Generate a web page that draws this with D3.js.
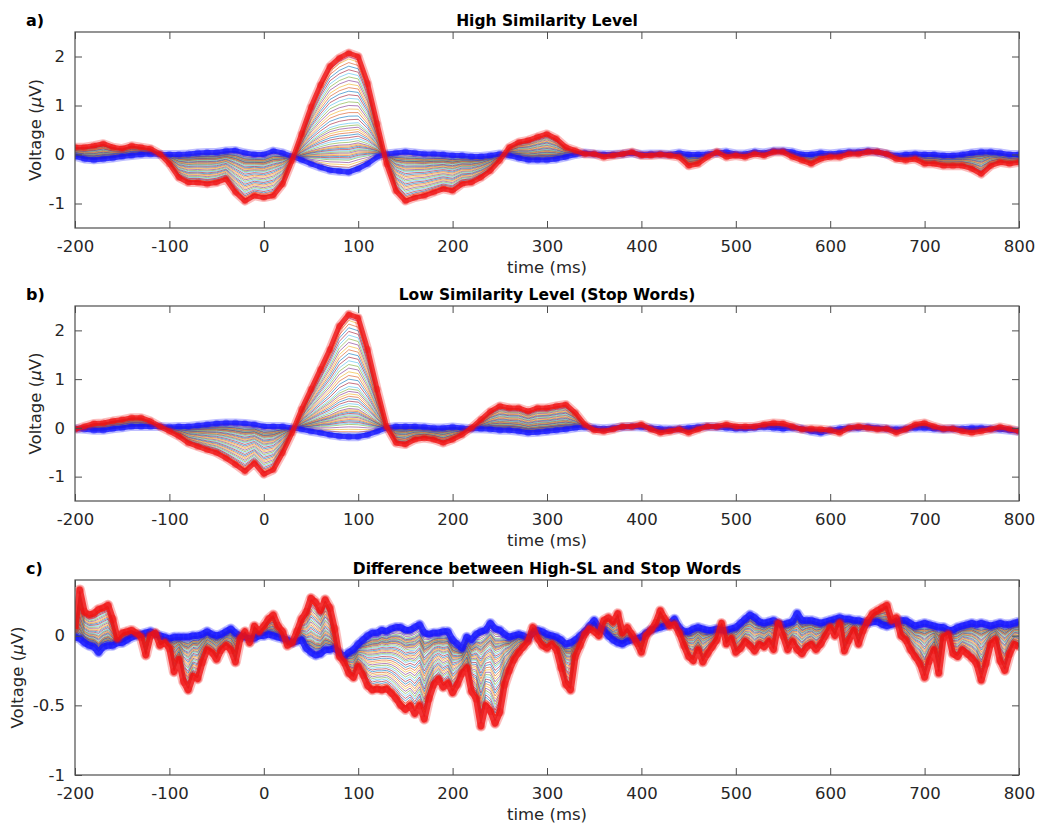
<!DOCTYPE html>
<html>
<head>
<meta charset="utf-8">
<script src="https://cdn.jsdelivr.net/npm/d3@7/dist/d3.min.js"></script>
<style>
  body { margin: 0; background: #fff; }
  text { font-family: "DejaVu Sans", sans-serif; fill: #262626; }
</style>
</head>
<body>
<script>

// window size
var width = 1039, height = 825;

// sample grids (ms)
var timeAB = d3.range(-200, 801, 10);
var timeC = d3.range(-200, 801, 5);

// a) high similarity level - red = largest channel, blue = opposite channel
var redA = [
   0.15, 0.15, 0.18, 0.22, 0.15, 0.12, 0.18, 0.15, 0.12, 0.01,
  -0.19,-0.47,-0.57,-0.57,-0.60,-0.57,-0.50,-0.77,-0.95,-0.84,
  -0.88,-0.84,-0.60,-0.12, 0.42, 0.97, 1.42, 1.80, 1.97, 2.07,
   2.00, 1.45, 0.63,-0.19,-0.74,-0.95,-0.88,-0.84,-0.77,-0.70,
  -0.74,-0.60,-0.57,-0.47,-0.33,-0.12, 0.15, 0.25, 0.29, 0.36,
   0.42, 0.32, 0.15, 0.08, 0.01, 0.01,-0.05,-0.02, 0.01, 0.05,
  -0.02,-0.02, 0.00,-0.02,-0.05,-0.23,-0.19,-0.05, 0.05,-0.05,
  -0.02,-0.05, 0.01,-0.02, 0.05, 0.05,-0.05,-0.12,-0.19,-0.09,
  -0.05,-0.05, 0.01, 0.01, 0.05, 0.05, 0.01,-0.09,-0.12,-0.09,
  -0.19,-0.19,-0.23,-0.23,-0.23,-0.29,-0.40,-0.23,-0.16,-0.19,
  -0.16
];
var blueA = [
  -0.04,-0.09,-0.11,-0.09,-0.07,-0.04,-0.02, 0.00, 0.01, 0.00,
   0.00, 0.00, 0.01, 0.03, 0.04, 0.04, 0.07, 0.08, 0.03, 0.00,
   0.00, 0.07, 0.03,-0.04,-0.11,-0.19,-0.26,-0.32,-0.34,-0.36,
  -0.29,-0.19,-0.05, 0.01, 0.03, 0.05, 0.03, 0.01, 0.01, 0.00,
  -0.02,-0.02,-0.04,-0.04,-0.02, 0.01,-0.02,-0.07,-0.11,-0.11,
  -0.11,-0.09,-0.05, 0.00, 0.03, 0.01, 0.00, 0.00, 0.01, 0.03,
   0.00, 0.01, 0.01, 0.00, 0.03, 0.00, 0.00, 0.01, 0.03, 0.05,
   0.01, 0.01, 0.05, 0.03, 0.07, 0.07, 0.05, 0.00, 0.00, 0.03,
   0.01, 0.03, 0.05, 0.05, 0.07, 0.05, 0.01,-0.02, 0.00, 0.01,
   0.00, 0.00,-0.02,-0.02, 0.00, 0.03, 0.05, 0.05, 0.03, 0.00,
   0.00
];

// b) low similarity level (stop words)
var redB = [
  -0.03, 0.03, 0.09, 0.10, 0.14, 0.17, 0.21, 0.21, 0.14, 0.03,
  -0.07,-0.17,-0.31,-0.38,-0.45,-0.51,-0.62,-0.75,-0.89,-0.72,
  -0.95,-0.86,-0.51,-0.10, 0.38, 0.79, 1.20, 1.61, 2.09, 2.33,
   2.26, 1.61, 0.79, 0.03,-0.31,-0.34,-0.24,-0.21,-0.24,-0.31,
  -0.24,-0.14, 0.00, 0.17, 0.34, 0.45, 0.41, 0.41, 0.34, 0.41,
   0.41, 0.45, 0.48, 0.31, 0.07,-0.05,-0.07,-0.03, 0.03, 0.03,
   0.07,-0.03,-0.10,-0.07,-0.03,-0.10,-0.03, 0.03, 0.03, 0.07,
   0.03, 0.03, 0.03, 0.07, 0.10, 0.09, 0.03,-0.03,-0.02,-0.03,
  -0.05,-0.10, 0.00, 0.03, 0.00,-0.03,-0.02,-0.10,-0.03, 0.07,
   0.10, 0.03,-0.02,-0.02,-0.07,-0.10,-0.07,-0.03, 0.02,-0.02,
  -0.07
];
var blueB = [
  -0.02,-0.03,-0.05,-0.05,-0.02, 0.00, 0.03, 0.03, 0.03, 0.03,
   0.02, 0.03, 0.03, 0.05, 0.07, 0.09, 0.10, 0.10, 0.09, 0.07,
   0.03, 0.03, 0.03, 0.00,-0.03,-0.07,-0.10,-0.14,-0.17,-0.18,
  -0.18,-0.14,-0.07, 0.00, 0.03, 0.03, 0.03, 0.02, 0.00, 0.00,
   0.02, 0.00,-0.02,-0.02,-0.03,-0.05,-0.05,-0.07,-0.10,-0.09,
  -0.07,-0.05,-0.03, 0.00, 0.02, 0.00,-0.02, 0.00, 0.02, 0.03,
   0.02, 0.00,-0.02,-0.03,-0.02, 0.00, 0.02, 0.03, 0.02, 0.00,
  -0.02,-0.02, 0.00, 0.02, 0.00,-0.02, 0.00,-0.02,-0.07,-0.10,
  -0.05,-0.02, 0.00, 0.00, 0.02, 0.00,-0.02,-0.03,-0.02, 0.00,
   0.00,-0.02,-0.03,-0.02,-0.02, 0.00, 0.00,-0.02,-0.03,-0.05,
  -0.07
];

// c) difference between High-SL and stop words (5 ms steps)
var redC = [
   0.05, 0.33, 0.17, 0.15, 0.16, 0.19, 0.20, 0.22, 0.12,-0.02,
   0.02, 0.03, 0.04, 0.02,-0.01,-0.14, 0.00, 0.02,-0.07,-0.05,
  -0.09,-0.26,-0.17,-0.33,-0.39,-0.29,-0.31,-0.19,-0.10,-0.12,
  -0.17,-0.10,-0.07,-0.10,-0.19,-0.02, 0.03,-0.05, 0.07, 0.03,
   0.07, 0.12, 0.15, 0.07, 0.03,-0.07,-0.05, 0.03, 0.12, 0.17,
   0.27, 0.24, 0.18, 0.26, 0.20, 0.05,-0.15,-0.19,-0.27,-0.30,
  -0.22,-0.28,-0.36,-0.39,-0.38,-0.39,-0.38,-0.41,-0.45,-0.50,
  -0.53,-0.50,-0.56,-0.50,-0.60,-0.45,-0.35,-0.31,-0.37,-0.34,
  -0.41,-0.35,-0.27,-0.23,-0.40,-0.45,-0.65,-0.50,-0.54,-0.63,
  -0.55,-0.35,-0.25,-0.17,-0.12,-0.08,-0.04, 0.06,-0.02,-0.07,
  -0.09,-0.06,-0.10,-0.23,-0.35,-0.39,-0.15,-0.07, 0.01, 0.05,
   0.03, 0.00, 0.11, 0.13, 0.10, 0.16, 0.02, 0.06, 0.01,-0.05,
  -0.12, 0.00, 0.04, 0.09, 0.18, 0.12, 0.07, 0.08, 0.02,-0.07,
  -0.15,-0.18,-0.10,-0.19,-0.13,-0.08,-0.03, 0.09,-0.06,-0.02,
  -0.12,-0.09,-0.04,-0.07,-0.11,-0.06,-0.08,-0.04,-0.10, 0.09,
   0.00,-0.10,-0.04,-0.10,-0.13,-0.08,-0.06,-0.10,-0.06, 0.00,
   0.06, 0.00, 0.09,-0.11,-0.03, 0.04,-0.06, 0.04, 0.11, 0.16,
   0.18, 0.20, 0.22, 0.11, 0.13, 0.00,-0.03,-0.10,-0.15,-0.20,
  -0.30,-0.18,-0.10,-0.27,-0.01, 0.01,-0.13,-0.15,-0.10,-0.13,
  -0.16,-0.20,-0.32,-0.20,-0.06,-0.03,-0.18,-0.25,-0.13,-0.06,
  -0.08
];
var blueC = [
  -0.01,-0.02,-0.05,-0.07,-0.08,-0.12,-0.08,-0.07,-0.07,-0.05,
  -0.05,-0.03,-0.01, 0.00, 0.01, 0.02, 0.03, 0.01, 0.00,-0.01,
  -0.02,-0.01,-0.01,-0.01,-0.01, 0.00, 0.00, 0.01, 0.03, 0.01,
   0.00, 0.01, 0.03, 0.05, 0.02, 0.00,-0.01,-0.02,-0.02, 0.00,
   0.00, 0.01, 0.00,-0.01,-0.02,-0.03,-0.05,-0.04,-0.03,-0.09,
  -0.12,-0.14,-0.13,-0.10,-0.10,-0.09,-0.12,-0.15,-0.12,-0.10,
  -0.06,-0.03, 0.00, 0.02, 0.02, 0.04, 0.03, 0.05, 0.06, 0.06,
   0.04, 0.04, 0.06, 0.08, 0.02, 0.01, 0.02, 0.02, 0.03, 0.03,
  -0.03,-0.06,-0.09,-0.01,-0.03, 0.01, 0.03, 0.04, 0.09, 0.05,
   0.04, 0.01,-0.01, 0.00, 0.01, 0.00,-0.02, 0.02, 0.04, 0.03,
   0.01, 0.00,-0.01,-0.03,-0.06,-0.05,-0.03, 0.00, 0.03, 0.07,
   0.11, 0.06, 0.04, 0.00,-0.03,-0.05,-0.06,-0.04,-0.03,-0.02,
  -0.01, 0.02, 0.04, 0.05, 0.06, 0.07, 0.09, 0.12, 0.06, 0.03,
   0.03, 0.05, 0.06, 0.05, 0.04, 0.04, 0.05, 0.04, 0.04, 0.05,
   0.06, 0.09, 0.12, 0.15, 0.13, 0.10, 0.09, 0.10, 0.11, 0.09,
   0.08, 0.09, 0.10, 0.16, 0.11, 0.11, 0.11, 0.10, 0.09, 0.10,
   0.11, 0.12, 0.13, 0.12, 0.12, 0.11, 0.11, 0.10, 0.09, 0.10,
   0.10, 0.08, 0.07, 0.08, 0.09, 0.11, 0.11, 0.09, 0.07, 0.08,
   0.09, 0.08, 0.07, 0.06, 0.06, 0.04, 0.04, 0.06, 0.07, 0.08,
   0.09, 0.08, 0.09, 0.08, 0.07, 0.08, 0.09, 0.08, 0.08, 0.09,
   0.10
];

// relative position of each thin channel between the blue and red channels
var channelWeights = [
  0.02, 0.04, 0.06, 0.08, 0.10, 0.11, 0.12, 0.13, 0.14, 0.15,
  0.16, 0.17, 0.18, 0.19, 0.20, 0.21, 0.22, 0.23, 0.25, 0.27,
  0.29, 0.31, 0.33, 0.35, 0.37, 0.39, 0.41, 0.44, 0.47, 0.50,
  0.53, 0.56, 0.59, 0.62, 0.65, 0.68, 0.71, 0.74, 0.77, 0.80,
  0.83, 0.86, 0.89, 0.92, 0.95, 0.97
];

// matlab default line colours
var colours = ["#0072BD", "#D95319", "#EDB120", "#7E2F8E", "#77AC30", "#4DBEEE", "#A2142F"];

var xTicks = [-200, -100, 0, 100, 200, 300, 400, 500, 600, 700, 800];

var panels = [
  { tag: "a)", title: "High Similarity Level", time: timeAB, red: redA, blue: blueA,
    yDomain: [-1.5, 2.5], yTicks: [-1, 0, 1, 2], top: 32, bottom: 228, yLabelX: 35, thick: 5 },
  { tag: "b)", title: "Low Similarity Level (Stop Words)", time: timeAB, red: redB, blue: blueB,
    yDomain: [-1.5, 2.5], yTicks: [-1, 0, 1, 2], top: 306, bottom: 501, yLabelX: 35, thick: 5 },
  { tag: "c)", title: "Difference between High-SL and Stop Words", time: timeC, red: redC, blue: blueC,
    yDomain: [-1, 0.4], yTicks: [-1, -0.5, 0], top: 580, bottom: 775, yLabelX: 17, thick: 6.5 }
];

var left = 75, right = 1019;

var svg = d3.select("body")
    .append("svg")
    .attr("width", width)
    .attr("height", height);

var x = d3.scaleLinear().domain([-200, 800]).range([left, right]);

panels.forEach(function (p, pi) {

    var y = d3.scaleLinear().domain(p.yDomain).range([p.bottom, p.top]);
    var g = svg.append("g");

    var clipId = "clip" + pi;
    svg.append("clipPath").attr("id", clipId)
        .append("rect")
        .attr("x", left).attr("y", p.top)
        .attr("width", right - left).attr("height", p.bottom - p.top);

    var line = d3.line()
        .x(function (d) { return x(d[0]); })
        .y(function (d) { return y(d[1]); });

    var plot = g.append("g").attr("clip-path", "url(#" + clipId + ")");

    // thin channels
    channelWeights.forEach(function (w, i) {
        var pts = p.time.map(function (t, k) {
            return [t, p.blue[k] + w * (p.red[k] - p.blue[k])];
        });
        plot.append("path")
            .attr("d", line(pts))
            .attr("fill", "none")
            .attr("stroke", colours[i % colours.length])
            .attr("stroke-width", 1)
            .attr("stroke-opacity", 0.6);
    });

    // thick blue and red channels, line plus round markers
    [[p.blue, "#1414ff"], [p.red, "#f01010"]].forEach(function (s) {
        var pts = p.time.map(function (t, k) { return [t, s[0][k]]; });
        plot.append("path")
            .attr("d", line(pts))
            .attr("fill", "none")
            .attr("stroke", s[1])
            .attr("stroke-width", p.thick + 4)
            .attr("stroke-linejoin", "round")
            .attr("stroke-opacity", 0.28);
        plot.append("path")
            .attr("d", line(pts))
            .attr("fill", "none")
            .attr("stroke", s[1])
            .attr("stroke-width", p.thick)
            .attr("stroke-linejoin", "round")
            .attr("stroke-opacity", 0.8);
        plot.selectAll(null)
            .data(pts)
            .enter().append("circle")
            .attr("cx", function (d) { return x(d[0]); })
            .attr("cy", function (d) { return y(d[1]); })
            .attr("r", p.thick / 2 + 1)
            .attr("fill", s[1])
            .attr("fill-opacity", 0.35);
    });

    // axes: ticks pointing inwards on all four sides
    var fmt = function (d) { return String(d); };

    var xb = g.append("g")
        .attr("transform", "translate(0," + p.bottom + ")")
        .call(d3.axisBottom(x).tickValues(xTicks).tickSize(-7).tickPadding(12).tickFormat(fmt));
    var xt = g.append("g")
        .attr("transform", "translate(0," + p.top + ")")
        .call(d3.axisTop(x).tickValues(xTicks).tickSize(-7).tickFormat(""));
    var yl = g.append("g")
        .attr("transform", "translate(" + left + ",0)")
        .call(d3.axisLeft(y).tickValues(p.yTicks).tickSize(-7).tickPadding(10).tickFormat(fmt));
    var yr = g.append("g")
        .attr("transform", "translate(" + right + ",0)")
        .call(d3.axisRight(y).tickValues(p.yTicks).tickSize(-7).tickFormat(""));

    [xb, xt, yl, yr].forEach(function (a) {
        a.select(".domain").remove();
        a.selectAll(".tick line").attr("stroke", "#4d4d4d");
        a.selectAll("text").attr("font-size", 16.5).attr("fill", "#262626")
            .attr("font-family", "DejaVu Sans");
    });

    // box
    g.append("rect")
        .attr("x", left).attr("y", p.top)
        .attr("width", right - left).attr("height", p.bottom - p.top)
        .attr("fill", "none")
        .attr("stroke", "#4d4d4d")
        .attr("stroke-width", 1.2);

    // title & panel tag
    g.append("text")
        .attr("x", (left + right) / 2).attr("y", p.top - 6)
        .attr("text-anchor", "middle")
        .attr("font-size", 15.5).attr("font-weight", "bold")
        .style("fill", "#000")
        .text(p.title);

    g.append("text")
        .attr("x", 26).attr("y", p.top - 6)
        .attr("font-size", 16).attr("font-weight", "bold")
        .style("fill", "#000")
        .text(p.tag);

    // axis labels
    g.append("text")
        .attr("x", (left + right) / 2).attr("y", p.bottom + 45)
        .attr("text-anchor", "middle")
        .attr("font-size", 16.5)
        .text("time (ms)");

    var yt = g.append("text")
        .attr("transform", "translate(" + p.yLabelX + "," + ((p.top + p.bottom) / 2) + ") rotate(-90)")
        .attr("dy", "0.35em")
        .attr("text-anchor", "middle")
        .attr("font-size", 16.5);
    yt.append("tspan").text("Voltage (");
    yt.append("tspan").attr("font-style", "italic").text("\u03BC");
    yt.append("tspan").text("V)");
});

</script>
</body>
</html>
